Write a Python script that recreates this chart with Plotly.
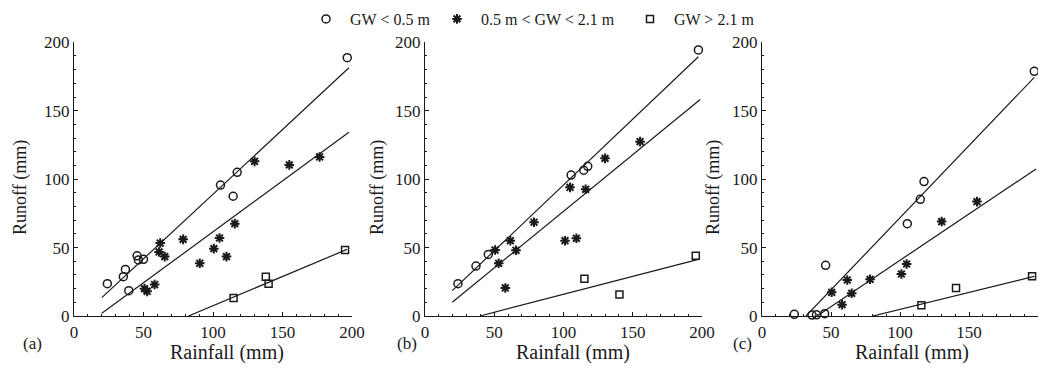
import plotly.graph_objects as go

# ---------------- data ----------------
# Panel (a)
a_low_x = [24, 35.5, 37, 39.4, 45.4, 46.3, 50, 105.4, 117.4, 114.5, 196.6]
a_low_y = [23.6, 28.7, 34, 18.5, 44, 41, 41.4, 95.7, 105, 87.5, 188.8]
a_mid_x = [50.7, 52.6, 58, 62, 61.2, 65.3, 78.5, 90.5, 100.6, 104.7, 109.7, 115.7, 129.9, 154.9, 176.7]
a_mid_y = [20, 18, 23, 53.3, 46.8, 43.4, 56, 38.5, 49.2, 57, 43.4, 67.5, 113, 110.4, 116.2]
a_high_x = [114.8, 138, 140, 195]
a_high_y = [13.2, 28.7, 23.6, 48.2]

# Panel (b)
b_low_x = [23.8, 36.8, 45.7, 105.5, 114.6, 117.5, 197.4]
b_low_y = [23.6, 36.5, 45, 103, 106.5, 109.4, 194.4]
b_mid_x = [50.6, 53.2, 58, 61.6, 65.7, 78.7, 101.1, 104.7, 109.3, 116, 130, 155.3]
b_mid_y = [48.2, 38.5, 20.5, 55, 48, 68.5, 55, 94, 56.8, 92.6, 115.2, 127.4]
b_high_x = [115.1, 140.4, 195.5]
b_high_y = [27.3, 15.8, 44]

# Panel (c)
c_low_x = [23.4, 36.2, 39.5, 45.4, 46.1, 105.3, 114.7, 117.4, 197.3]
c_low_y = [1.2, 0.7, 0.9, 1.7, 37, 67.5, 85.3, 98.2, 178.8]
c_mid_x = [50.5, 58, 61.8, 65, 78.3, 101, 104.8, 130.2, 155.8]
c_mid_y = [17.3, 8.3, 26.3, 16.6, 26.8, 30.7, 38, 69, 83.6]
c_high_x = [115.5, 140.6, 195.7]
c_high_y = [7.8, 20.5, 29]

# Fitted lines: slope, intercept, x start, x end (per panel: low, mid, high)
fit_slope = [[0.945, 0.744, 0.427], [0.962, 0.828, 0.2625], [1.054, 0.677, 0.2476]]
fit_icpt = [[-5.5, -12.9, -35.2], [-0.45, -6.3, -10.4], [-33.6, -27.0, -19.9]]
fit_x0 = [[20, 20, 82.4], [19.7, 19.7, 39.7], [31.9, 39.9, 80.2]]
fit_x1 = [[197.8, 197.8, 196.4], [197.4, 198.7, 197.4], [197.3, 198.6, 197.3]]

series_names = ["GW < 0.5 m", "0.5 m < GW < 2.1 m", "GW > 2.1 m"]
panel_labels = ["(a)", "(b)", "(c)"]
tick_vals = [0, 50, 100, 150, 200]

# ---------------- styling ----------------
FONT = "Liberation Serif, Times New Roman, serif"
INK = "#1a1a1a"
symbols = ["circle-open", "asterisk-open", "square-open"]
sizes = [8, 8, 7]
lwidths = [1.5, 2.0, 1.5]
legend_names = ["legend", "legend2", "legend3"]
legend_sym_x = [327, 458, 651]  # window px of legend symbols

panels = [
    [(a_low_x, a_low_y), (a_mid_x, a_mid_y), (a_high_x, a_high_y)],
    [(b_low_x, b_low_y), (b_mid_x, b_mid_y), (b_high_x, b_high_y)],
    [(c_low_x, c_low_y), (c_mid_x, c_mid_y), (c_high_x, c_high_y)],
]

# the page body has an 8px margin; lay out in window pixels and convert
OFF = 8
W, H = 1046 - 2 * OFF, 371 - 2 * OFF


def px(X):
    return min(max((X - OFF) / W, 0.0), 1.0)


def py(Y):
    return min(max(1 - (Y - OFF) / H, 0.0), 1.0)


x_domains = [[px(74), px(352)], [px(425), px(702)], [px(762), px(1038)]]
y_domain = [py(316), py(42.3)]

fig = go.Figure()

for p, series in enumerate(panels):
    xa = "x" if p == 0 else f"x{p+1}"
    ya = "y" if p == 0 else f"y{p+1}"
    for s, (xs, ys) in enumerate(series):
        x0, x1 = fit_x0[p][s], fit_x1[p][s]
        m, b = fit_slope[p][s], fit_icpt[p][s]
        fig.add_trace(go.Scatter(
            x=[x0, x1], y=[m * x0 + b, m * x1 + b], mode="lines",
            line=dict(color=INK, width=1.2), showlegend=False,
            xaxis=xa, yaxis=ya, hoverinfo="skip", cliponaxis=False))
        fig.add_trace(go.Scatter(
            x=xs, y=ys, mode="markers", name="\u00a0" + series_names[s],
            marker=dict(symbol=symbols[s], size=sizes[s], color=INK,
                        line=dict(color=INK, width=lwidths[s])),
            showlegend=(p == 0), legend=legend_names[s],
            xaxis=xa, yaxis=ya, cliponaxis=False))

axis_common = dict(
    range=[0, 200], tickvals=tick_vals, ticks="inside", ticklen=4, tickwidth=1.2,
    tickcolor=INK, showline=True, linecolor=INK, linewidth=1.4, showgrid=False,
    zeroline=False, tickfont=dict(family=FONT, size=17, color=INK),
    minor=dict(dtick=10, ticks="inside", ticklen=2, tickwidth=1, tickcolor=INK),
    automargin=False, fixedrange=True,
)

layout_axes = {}
for p in range(3):
    xk = "xaxis" if p == 0 else f"xaxis{p+1}"
    yk = "yaxis" if p == 0 else f"yaxis{p+1}"
    xa_anchor = "y" if p == 0 else f"y{p+1}"
    ya_anchor = "x" if p == 0 else f"x{p+1}"
    layout_axes[xk] = dict(axis_common, domain=x_domains[p], anchor=xa_anchor)
    layout_axes[yk] = dict(axis_common, domain=y_domain, anchor=ya_anchor)

legend_layout = {}
for s in range(3):
    legend_layout[legend_names[s]] = dict(
        orientation="h", x=(legend_sym_x[s] - 21 - OFF) / W, xanchor="left",
        y=1 + 6 / H, yanchor="top",
        font=dict(family=FONT, size=16, color=INK), bgcolor="rgba(0,0,0,0)",
        itemwidth=30, borderwidth=0)

annotations = []
x_title_centers = [227, 573, 912]
y_title_x = [20, 377, 713]
label_x = [32, 407, 742]
for p in range(3):
    annotations.append(dict(text="Rainfall (mm)", x=px(x_title_centers[p]), y=py(352),
                            xref="paper", yref="paper", showarrow=False,
                            xanchor="center", yanchor="middle",
                            font=dict(family=FONT, size=20, color=INK)))
    annotations.append(dict(text="Runoff (mm)", x=px(y_title_x[p]), y=py(188),
                            xref="paper", yref="paper", showarrow=False, textangle=-90,
                            xanchor="center", yanchor="middle",
                            font=dict(family=FONT, size=18, color=INK)))
    annotations.append(dict(text=panel_labels[p], x=px(label_x[p]), y=py(343),
                            xref="paper", yref="paper", showarrow=False,
                            xanchor="center", yanchor="middle",
                            font=dict(family=FONT, size=17, color=INK)))

fig.update_layout(
    width=W, height=H,
    margin=dict(l=0, r=0, t=0, b=0, autoexpand=False),
    paper_bgcolor="white", plot_bgcolor="white",
    font=dict(family=FONT, size=17, color=INK),
    showlegend=True,
    annotations=annotations,
    **legend_layout,
    **layout_axes,
)

fig.write_html("out.html")
